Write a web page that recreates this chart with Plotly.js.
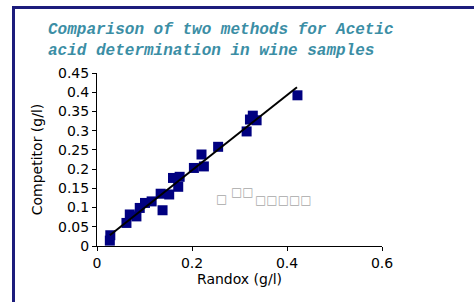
<!DOCTYPE html>
<html>
<head>
<meta charset="utf-8">
<script src="https://cdn.plot.ly/plotly-3.0.1.min.js"></script>
<style>
  html, body { margin: 0; padding: 0; background: #fff; }
  #wrap { position: relative; width: 474px; height: 302px; overflow: hidden; }
  #chart { width: 474px; height: 302px; }
  .bline { position: absolute; background: #1c1c7c; }
</style>
</head>
<body>
<div id="wrap">
  <div id="chart"></div>
  <div class="bline" style="left:12px; top:6px; width:470px; height:3px;"></div>
  <div class="bline" style="left:12px; top:6px; width:3px; height:300px;"></div>
</div>
<script>
// Sample values
const randox = [0.028, 0.027, 0.062, 0.069, 0.083, 0.090, 0.101, 0.115, 0.134, 0.138,
                0.152, 0.160, 0.174, 0.171, 0.204, 0.225, 0.220, 0.255, 0.315, 0.322,
                0.328, 0.336, 0.422];
const competitor = [0.028, 0.014, 0.060, 0.082, 0.077, 0.099, 0.112, 0.116, 0.136, 0.093,
                    0.134, 0.177, 0.180, 0.154, 0.203, 0.207, 0.238, 0.258, 0.298, 0.329,
                    0.339, 0.327, 0.392];
// Trend line end points
const trendX = [0.027, 0.421];
const trendY = [0.028, 0.413];

const xTicks = [0, 0.2, 0.4, 0.6];
const yTicks = [0, 0.05, 0.1, 0.15, 0.2, 0.25, 0.3, 0.35, 0.4, 0.45];

const traces = [
  {
    type: 'scatter', mode: 'markers', x: randox, y: competitor,
    marker: { symbol: 'square', size: 10, color: '#000080' },
    showlegend: false, hoverinfo: 'x+y'
  },
  {
    type: 'scatter', mode: 'lines', x: trendX, y: trendY,
    line: { color: '#000000', width: 2 },
    showlegend: false, hoverinfo: 'skip'
  }
];

const tickFont = { family: 'DejaVu Sans, Verdana, sans-serif', size: 14, color: '#000' };
const tofuFont = { family: 'DejaVu Sans', size: 12, color: '#a8a8a8' };

const layout = {
  width: 474, height: 302,
  paper_bgcolor: '#ffffff', plot_bgcolor: '#ffffff',
  margin: { l: 97, r: 92, t: 73, b: 56 },
  title: {
    text: 'Comparison of two methods for Acetic<br>acid determination in wine samples',
    font: { family: 'Liberation Mono, Courier New, monospace', size: 16, color: '#3b8ea5', weight: 'bold', style: 'italic' },
    x: 48 / 474, xref: 'container', xanchor: 'left',
    y: 1 - 34 / 302, yref: 'container', yanchor: 'top'
  },
  xaxis: {
    range: [0, 0.6], tickvals: xTicks, ticktext: xTicks.map(String),
    showgrid: false, zeroline: false, showline: true, linecolor: '#000', linewidth: 1,
    ticks: 'outside', ticklen: 4, tickcolor: '#000', tickfont: tickFont,
    title: { text: 'Randox (g/l)', font: tickFont, standoff: 2 },
    fixedrange: true
  },
  yaxis: {
    range: [0, 0.45], tickvals: yTicks, ticktext: yTicks.map(String),
    showgrid: false, zeroline: false, showline: true, linecolor: '#000', linewidth: 1,
    ticks: 'outside', ticklen: 4, tickcolor: '#000', tickfont: tickFont,
    title: { text: 'Competitor (g/l)', font: tickFont, standoff: 12 },
    fixedrange: true
  },
  annotations: [
    { text: '□', x: 0.262, y: 0.122, xref: 'x', yref: 'y', showarrow: false, borderpad: 0, font: tofuFont },
    { text: '□□', x: 0.333, y: 0.140, xref: 'x', yref: 'y', xanchor: 'right', showarrow: false, borderpad: 0, font: tofuFont },
    { text: '□□□□□', x: 0.331, y: 0.120, xref: 'x', yref: 'y', xanchor: 'left', showarrow: false, borderpad: 0, font: tofuFont }
  ]
};

Plotly.newPlot('chart', traces, layout, { staticPlot: true, displayModeBar: false });
</script>
</body>
</html>
